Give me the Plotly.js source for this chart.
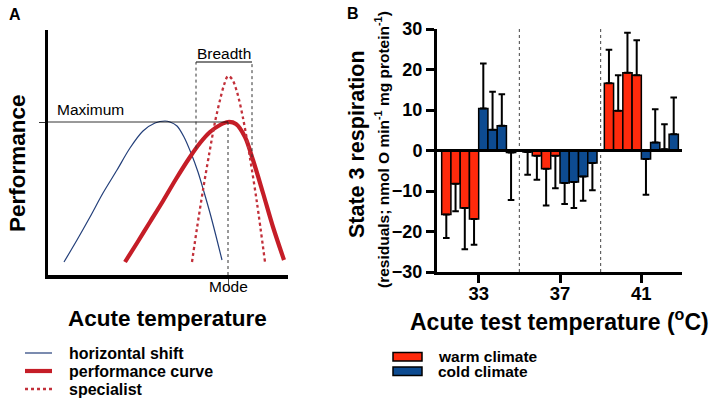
<!DOCTYPE html>
<html><head><meta charset="utf-8">
<script src="https://cdn.plot.ly/plotly-3.0.1.min.js"></script>
<style>html,body{margin:0;padding:0;background:#fff}#chart{width:715px;height:402px}</style>
</head><body><div id="chart"></div>
<script>
// ---------- Panel A: conceptual thermal performance curves (arbitrary units)
const shiftTemp = [16, 29, 42, 55, 69, 82, 95, 107, 117, 122, 129, 136, 143, 150, 156, 162, 168, 174];
const shiftPerf = [13, 35, 58, 82, 105, 127, 144, 152, 154, 153, 149, 138, 122, 103, 83, 62, 39, 15];
const perfTemp = [77, 89, 102, 115, 128, 142, 152, 162, 172, 180, 188, 197, 205, 215, 225, 236];
const perfPerf = [13, 32, 53, 74, 96, 118, 132, 143, 150, 153, 151, 138, 115, 82, 48, 15];
const specTemp = [144, 149, 155, 161, 167, 172, 176, 180, 184, 189, 195, 202, 209, 217];
const specPerf = [13, 47, 85, 120, 153, 175, 190, 199, 196, 183, 157, 117, 72, 13];
const seriesA = ['horizontal shift', 'performance curve', 'specialist'];
const breadthBounds = [148, 204];
const breadthTop = 213;

// ---------- Panel B: state 3 respiration residuals
const temps = [33, 37, 41];
const tickLabelsB = ['33', '37', '41'];
const warm1 = [-15.8, -0.4, 16.6], warm1Err = [5.8, 5.6, 8.3];
const warm2 = [-8.2, -1.3, 9.8],   warm2Err = [6.8, 5.9, 8.8];
const warm3 = [-14.2, -4.5, 19.2], warm3Err = [10.2, 9.1, 9.9];
const warm4 = [-16.9, -1.3, 18.6], warm4Err = [6.4, 8.0, 8.6];
const cold1 = [10.4, -8.0, -2.1],  cold1Err = [11.1, 5.2, 8.8];
const cold2 = [5.1, -7.8, 2.0],    cold2Err = [9.4, 6.4, 8.2];
const cold3 = [6.1, -6.4, 0.3],    cold3Err = [7.8, 6.0, 6.2];
const cold4 = [-0.5, -3.1, 4.0],   cold4Err = [11.7, 6.7, 9.1];
const seriesB = ['warm climate', 'cold climate'];

// ---------- styles
const W = 715, H = 402;
const px = v => v / W, py = v => 1 - v / H;
const FONT = 'Arial, "Liberation Sans", Helvetica, sans-serif';
const colA = ['#233f7a', '#c51d27', '#c2303a'];
const colB = ['#ff2a0c', '#0d4b91'];

const traces = [];
const curvesA = [[shiftTemp, shiftPerf], [perfTemp, perfPerf], [specTemp, specPerf]];
const lineA = [{color: colA[0], width: 1.2}, {color: colA[1], width: 4.2}, {color: colA[2], width: 2.3, dash: 'dot'}];
curvesA.forEach((c, i) => traces.push({
  type: 'scatter', mode: 'lines', x: c[0], y: c[1], name: seriesA[i],
  line: Object.assign({shape: 'spline', smoothing: 0.9}, lineA[i]),
  xaxis: 'x', yaxis: 'y', showlegend: false, hoverinfo: 'skip'
}));

const groups = [[warm1, warm1Err, 0], [warm2, warm2Err, 0], [warm3, warm3Err, 0], [warm4, warm4Err, 0],
                [cold1, cold1Err, 1], [cold2, cold2Err, 1], [cold3, cold3Err, 1], [cold4, cold4Err, 1]];
groups.forEach(([vals, errs, k]) => traces.push({
  type: 'bar', x: temps, y: vals, name: seriesB[k], xaxis: 'x2', yaxis: 'y2', showlegend: false,
  marker: {color: colB[k], line: {color: '#000', width: 1.5}},
  error_y: {type: 'data', symmetric: false,
    array: vals.map((v, j) => v >= 0 ? errs[j] : 0),
    arrayminus: vals.map((v, j) => v < 0 ? errs[j] : 0),
    color: '#000', thickness: 2, width: 3.3}
}));

const maxPerf = Math.max(...perfPerf);
const modeT = perfTemp[perfPerf.indexOf(maxPerf)];
function perfAt(t) {
  for (let i = 0; i < perfTemp.length - 1; i++) {
    if (t >= perfTemp[i] && t <= perfTemp[i + 1]) {
      const f = (t - perfTemp[i]) / (perfTemp[i + 1] - perfTemp[i]);
      return perfPerf[i] + f * (perfPerf[i + 1] - perfPerf[i]);
    }
  }
  return 0;
}

const shapes = [
  {type: 'line', xref: 'x', yref: 'y', x0: 0, x1: modeT, y0: maxPerf, y1: maxPerf, line: {color: '#000', width: 0.8}},
  {type: 'line', xref: 'x', yref: 'y', x0: modeT, x1: modeT, y0: 0, y1: maxPerf, line: {color: '#333', width: 1, dash: 'dot'}},
  {type: 'line', xref: 'x', yref: 'y', x0: breadthBounds[0], x1: breadthBounds[1], y0: breadthTop, y1: breadthTop, line: {color: '#000', width: 1}},
];
breadthBounds.forEach(b => shapes.push({type: 'line', xref: 'x', yref: 'y', x0: b, x1: b, y0: perfAt(b), y1: breadthTop,
  line: {color: '#333', width: 1, dash: 'dot'}}));
for (let i = 0; i < temps.length - 1; i++) {
  const m = (temps[i] + temps[i + 1]) / 2;
  shapes.push({type: 'line', xref: 'x2', yref: 'y2', x0: m, x1: m, y0: -30, y1: 30, line: {color: '#444', width: 1, dash: 'dot'}});
}
shapes.push({type: 'line', xref: 'x2 domain', yref: 'y2', x0: 0, x1: 1, y0: 0, y1: 0, layer: 'above', line: {color: '#000', width: 3.2}});

const annotations = [];
const legA_y = [353, 371, 389];
seriesA.forEach((n, i) => {
  shapes.push({type: 'line', xref: 'paper', yref: 'paper', x0: px(25), x1: px(52), y0: py(legA_y[i]), y1: py(legA_y[i]),
    line: {color: lineA[i].color, width: lineA[i].width, dash: lineA[i].dash || 'solid'}});
  annotations.push({xref: 'paper', yref: 'paper', x: px(67), y: py(legA_y[i]), xanchor: 'left', yanchor: 'middle',
    text: n, showarrow: false, font: {family: FONT, size: 16, weight: 'bold', color: '#000'}});
});
const legB_y = [[352.5, 361], [367, 375.5]];
seriesB.forEach((n, i) => {
  shapes.push({type: 'rect', xref: 'paper', yref: 'paper', x0: px(393), x1: px(422), y0: py(legB_y[i][0]), y1: py(legB_y[i][1]),
    fillcolor: colB[i], line: {color: '#000', width: 1.5}});
  annotations.push({xref: 'paper', yref: 'paper', x: px(436), y: py((legB_y[i][0] + legB_y[i][1]) / 2), xanchor: 'left', yanchor: 'middle',
    text: n, showarrow: false, font: {family: FONT, size: 15.5, weight: 'bold', color: '#000'}});
});

const txt = (x, y, text, size, opts) => Object.assign({xref: 'paper', yref: 'paper', x: px(x), y: py(y), text, showarrow: false,
  xanchor: 'center', yanchor: 'middle', font: {family: FONT, size, color: '#000'}}, opts || {});
annotations.push(
  txt(15, 15, 'A', 16, {font: {family: FONT, size: 16, weight: 'bold', color: '#000'}}),
  txt(353, 14, 'B', 16, {font: {family: FONT, size: 16, weight: 'bold', color: '#000'}}),
  txt(17, 163, 'Performance', 22.5, {textangle: -90, font: {family: FONT, size: 22.5, weight: 'bold', color: '#000'}}),
  txt(167, 318, 'Acute temperature', 22.5, {font: {family: FONT, size: 22.5, weight: 'bold', color: '#000'}}),
  {xref: 'x', yref: 'y', x: 7, y: 166, text: 'Maximum', showarrow: false, xanchor: 'left', yanchor: 'middle', font: {family: FONT, size: 15.5, color: '#000'}},
  {xref: 'x', yref: 'y', x: (breadthBounds[0] + breadthBounds[1]) / 2, y: breadthTop + 9, text: 'Breadth', showarrow: false, xanchor: 'center', yanchor: 'middle', font: {family: FONT, size: 15.5, color: '#000'}},
  {xref: 'x', yref: 'paper', x: modeT, y: py(286), text: 'Mode', showarrow: false, xanchor: 'center', yanchor: 'middle', font: {family: FONT, size: 15.5, color: '#000'}},
  txt(357, 144, 'State 3 respiration', 21.5, {textangle: -90, font: {family: FONT, size: 21.5, weight: 'bold', color: '#000'}}),
  txt(382, 150, '(residuals; nmol O min<sup>-1</sup> mg protein<sup>-1</sup>)', 15.5, {textangle: -90, font: {family: FONT, size: 15.5, weight: 'bold', color: '#000'}}),
  txt(559, 320, 'Acute test temperature (<sup>o</sup>C)', 23, {font: {family: FONT, size: 23, weight: 'bold', color: '#000'}})
);

const layout = {
  width: W, height: H, margin: {l: 0, r: 0, t: 0, b: 0}, paper_bgcolor: '#fff', plot_bgcolor: 'rgba(0,0,0,0)',
  showlegend: false, font: {family: FONT, color: '#000'},
  barmode: 'group', bargap: 0.09, bargroupgap: 0,
  xaxis: {domain: [px(48), px(288)], anchor: 'y', range: [0, 240], showline: true, linewidth: 3.5, linecolor: '#000',
    showgrid: false, zeroline: false, tickvals: [modeT], ticks: 'outside', ticklen: 7, tickwidth: 1, tickcolor: '#555', showticklabels: false},
  yaxis: {domain: [py(275), py(30)], anchor: 'x', range: [0, 245], showline: true, linewidth: 3.5, linecolor: '#000',
    showgrid: false, zeroline: false, tickvals: [maxPerf], ticks: 'outside', ticklen: 6, tickwidth: 0.8, tickcolor: '#000', showticklabels: false},
  xaxis2: {domain: [px(437), px(682)], anchor: 'y2', range: [30.95, 43.0], showline: true, linewidth: 3, linecolor: '#000',
    showgrid: false, zeroline: false, tickvals: temps, ticktext: tickLabelsB, ticks: 'outside', ticklen: 8, tickwidth: 3, tickcolor: '#000',
    ticklabelstandoff: -5, tickfont: {family: FONT, size: 18.5, weight: 'bold', color: '#000'}},
  yaxis2: {domain: [py(272), py(29)], anchor: 'x2', range: [-30, 30], showline: true, linewidth: 3, linecolor: '#000',
    showgrid: false, zeroline: false, tickvals: [-30, -20, -10, 0, 10, 20, 30], ticks: 'outside', ticklen: 8, tickwidth: 3, tickcolor: '#000',
    tickfont: {family: FONT, size: 18, weight: 'bold', color: '#000'}},
  shapes, annotations
};

Plotly.newPlot('chart', traces, layout, {staticPlot: true, displayModeBar: false});
</script>
</body></html>
